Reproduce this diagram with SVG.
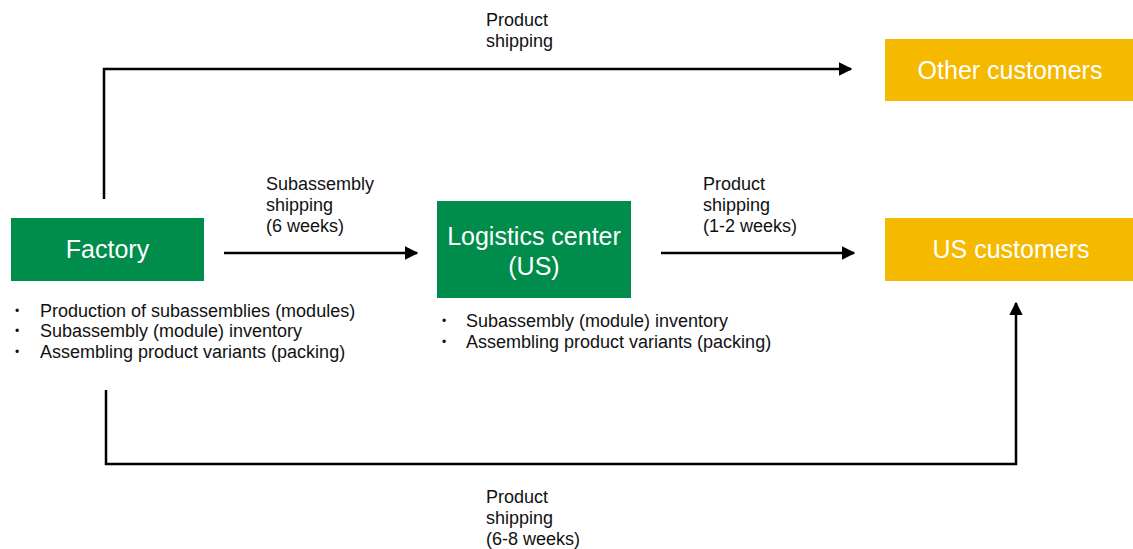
<svg xmlns="http://www.w3.org/2000/svg" width="1133" height="549" viewBox="0 0 1133 549">
<style>
.green{fill:#008C4A}
.yellow{fill:#F5B900}
.nt{font-family:"Liberation Sans",Arial,sans-serif;font-size:25px;fill:#fff;text-anchor:middle}
.lb{font-family:"Liberation Sans",Arial,sans-serif;font-size:18px;fill:#111}
.bt{font-family:"Liberation Sans",Arial,sans-serif;font-size:12px;fill:#111}
.ln{fill:none;stroke:#000;stroke-width:2.5}
</style>
<defs>
<marker id="ah" viewBox="0 0 10 10" refX="9" refY="5" markerWidth="5.5" markerHeight="5.5" orient="auto" markerUnits="strokeWidth">
<path d="M0,0 L10,5 L0,10 z" fill="#000"/>
</marker>
</defs>
<rect width="1133" height="549" fill="#fff"/>
<g id="connectors">
<path class="ln" d="M104,199 V69 H851" marker-end="url(#ah)"/>
<path class="ln" d="M224,253 H417" marker-end="url(#ah)"/>
<path class="ln" d="M661,253 H854" marker-end="url(#ah)"/>
<path class="ln" d="M106,390 V464 H1016 V303" marker-end="url(#ah)"/>
<text class="lb" x="486" y="26">Product</text>
<text class="lb" x="486" y="47">shipping</text>
<text class="lb" x="266" y="190">Subassembly</text>
<text class="lb" x="266" y="211">shipping</text>
<text class="lb" x="266" y="232">(6 weeks)</text>
<text class="lb" x="703" y="190">Product</text>
<text class="lb" x="703" y="211">shipping</text>
<text class="lb" x="703" y="232">(1-2 weeks)</text>
<text class="lb" x="486" y="503">Product</text>
<text class="lb" x="486" y="524">shipping</text>
<text class="lb" x="486" y="545">(6-8 weeks)</text>
</g>
<g id="factory">
<rect class="green" x="11" y="218" width="193" height="63"/>
<text class="nt" x="107.5" y="258">Factory</text>
<text class="bt" x="15" y="315">•</text>
<text class="lb" x="40" y="317">Production of subassemblies (modules)</text>
<text class="bt" x="15" y="335">•</text>
<text class="lb" x="40" y="337">Subassembly (module) inventory</text>
<text class="bt" x="15" y="356">•</text>
<text class="lb" x="40" y="358">Assembling product variants (packing)</text>
</g>
<g id="logistics">
<rect class="green" x="437" y="201" width="194" height="97"/>
<text class="nt" x="534" y="245">Logistics center</text>
<text class="nt" x="534" y="275">(US)</text>
<text class="bt" x="442" y="325">•</text>
<text class="lb" x="466" y="327">Subassembly (module) inventory</text>
<text class="bt" x="442" y="346">•</text>
<text class="lb" x="466" y="348">Assembling product variants (packing)</text>
</g>
<g id="other-customers">
<rect class="yellow" x="885" y="39" width="248" height="62"/>
<text class="nt" x="1010" y="79">Other customers</text>
</g>
<g id="us-customers">
<rect class="yellow" x="885" y="218" width="248" height="63"/>
<text class="nt" x="1011" y="258">US customers</text>
</g>
</svg>
